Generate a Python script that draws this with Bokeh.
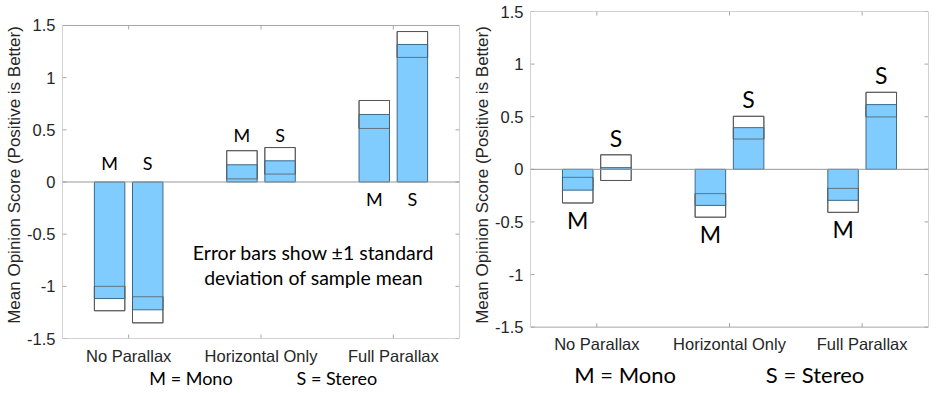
from bokeh.plotting import figure
from bokeh.layouts import row
from bokeh.models import Range1d, FixedTicker, LinearAxis, Span
from bokeh.core.properties import value
from bokeh.embed import file_html
from bokeh.resources import INLINE

# ---------------- data ----------------
categories = ["No Parallax", "Horizontal Only", "Full Parallax"]
y_ticks = [-1.5, -1, -0.5, 0, 0.5, 1, 1.5]
y_tick_labels = ["-1.5", "-1", "-0.5", "0", "0.5", "1", "1.5"]

# left panel
left_mono_mean = [-1.117, 0.165, 0.647]
left_mono_sd = [0.117, 0.135, 0.134]
left_stereo_mean = [-1.225, 0.203, 1.318]
left_stereo_sd = [0.125, 0.127, 0.124]

# right panel
right_mono_mean = [-0.198, -0.343, -0.295]
right_mono_sd = [0.122, 0.112, 0.114]
right_stereo_mean = [0.016, 0.396, 0.615]
right_stereo_sd = [0.122, 0.108, 0.117]

y_label = "Mean Opinion Score (Positive is Better)"
note_lines = ["Error bars show \u00b11 standard", "deviation of sample mean"]
legend_texts = ["M = Mono", "S = Stereo"]

# ---------------- style ----------------
BLUE = "#80CCFF"
BAR_EDGE = "#3b6b8c"
BOX_EDGE = "#555555"
FRAME = "#a6a6a6"
TXT = "#262626"
AX_FONT = "Liberation Sans"
ANN_FONT = "Lato"
OFF = 0.144
HALF_W = 0.115
FRAME_H = 327


def make_panel(fw, y_lo, y_hi, mb_left, mb_right, cat_standoff,
               legend_x, legend_size, legend_standoff,
               mono_mean, mono_sd, stereo_mean, stereo_sd):
    p = figure(frame_width=fw, frame_height=FRAME_H, output_backend="svg",
               toolbar_location=None, title=None, x_range=Range1d(0.5, 3.5),
               y_range=Range1d(y_lo, y_hi),
               min_border_left=mb_left, min_border_right=mb_right,
               min_border_top=11, min_border_bottom=55)
    p.xgrid.visible = False
    p.ygrid.visible = False
    p.outline_line_color = None

    xs = [i + 1 for i in range(len(categories))]

    # axes (lines/ticks are drawn as a box below)
    p.xaxis.ticker = FixedTicker(ticks=xs)
    p.xaxis.major_label_overrides = {x: c for x, c in zip(xs, categories)}
    p.yaxis.ticker = FixedTicker(ticks=y_ticks)
    p.yaxis.major_label_overrides = {t: l for t, l in zip(y_ticks, y_tick_labels)}
    p.yaxis.axis_label = y_label
    for ax in (p.xaxis[0], p.yaxis[0]):
        ax.axis_line_color = None
        ax.major_tick_line_color = None
        ax.minor_tick_line_color = None
        ax.major_tick_in = 0
        ax.major_tick_out = 0
        ax.major_label_text_font = AX_FONT
        ax.major_label_text_font_size = "16.5px"
        ax.major_label_text_color = TXT
        ax.axis_label_text_font = AX_FONT
        ax.axis_label_text_font_size = "17px"
        ax.axis_label_text_font_style = "normal"
        ax.axis_label_text_color = TXT
    p.yaxis.major_label_standoff = 7
    p.yaxis.axis_label_standoff = 0
    p.xaxis.major_label_standoff = cat_standoff

    # legend line below the category labels
    leg = LinearAxis(ticker=FixedTicker(ticks=legend_x),
                     major_label_overrides={x: t for x, t in zip(legend_x, legend_texts)},
                     major_label_text_font=ANN_FONT, major_label_text_font_size=legend_size,
                     major_label_text_color="black", major_label_standoff=legend_standoff,
                     major_tick_in=0, major_tick_out=0,
                     major_tick_line_color=None, minor_tick_line_color=None,
                     axis_line_color=None)
    p.add_layout(leg, "below")

    # axes box from -1.5 to 1.5 with inward ticks on all four sides
    x0, x1 = p.x_range.start, p.x_range.end
    b0, b1 = y_ticks[0], y_ticks[-1]
    dx = 4 * (x1 - x0) / fw
    dy = 4 * (y_hi - y_lo) / FRAME_H
    n = len(y_ticks)
    m = len(xs)
    p.segment(x0=[x1] * n, x1=[x1 - dx] * n, y0=y_ticks, y1=y_ticks,
              line_color=FRAME, line_width=1)
    p.segment(x0=[x0] * n, x1=[x0 + dx] * n, y0=y_ticks, y1=y_ticks,
              line_color=FRAME, line_width=1)
    p.segment(x0=xs, x1=xs, y0=[b1] * m, y1=[b1 - dy] * m,
              line_color=FRAME, line_width=1)
    p.segment(x0=xs, x1=xs, y0=[b0] * m, y1=[b0 + dy] * m,
              line_color=FRAME, line_width=1)

    p.add_layout(Span(location=0, dimension="width", line_color="#999999", line_width=1))

    for off, mean, sd in ((-OFF, mono_mean, mono_sd), (OFF, stereo_mean, stereo_sd)):
        cx = [x + off for x in xs]
        lefts = [c - HALF_W for c in cx]
        rights = [c + HALF_W for c in cx]
        lo = [mm - s for mm, s in zip(mean, sd)]
        hi = [mm + s for mm, s in zip(mean, sd)]
        zeros = [0] * len(mean)
        # error box (white)
        p.quad(left=lefts, right=rights, bottom=lo, top=hi,
               fill_color="white", line_color=BOX_EDGE, line_width=1)
        # bar to mean
        p.quad(left=lefts, right=rights, bottom=zeros, top=mean,
               fill_color=BLUE, line_color=BAR_EDGE, line_width=1)
        # error box outline on top
        p.quad(left=lefts, right=rights, bottom=lo, top=hi,
               fill_color=None, line_color=BOX_EDGE, line_width=1, line_alpha=0.75)

    p.quad(left=[x0], right=[x1], bottom=[b0], top=[b1], fill_color=None,
           line_color=FRAME, line_width=1)
    return p, xs


# ---------------- left panel ----------------
pl, xs = make_panel(397, -1.5, 1.634, 62, 11, 8, [1.471, 2.573], "18px", -1,
                    left_mono_mean, left_mono_sd, left_stereo_mean, left_stereo_sd)
left_label_y = [0.18, 0.45, -0.16]
pl.text(x=[x - OFF for x in xs] + [x + OFF for x in xs],
        y=left_label_y + left_label_y,
        text=["M"] * 3 + ["S"] * 3,
        text_font=value(ANN_FONT), text_font_size="18px", text_color="black",
        text_align="center", text_baseline="middle")
pl.text(x=[2.397, 2.397], y=[-0.673, -0.913], text=note_lines,
        text_font=value(ANN_FONT), text_font_size="19.5px", text_color="black",
        text_align="center", text_baseline="middle")

# ---------------- right panel ----------------
pr, xs = make_panel(398, -1.608, 1.5, 59, 8, -4, [1.213, 2.645], "22px", 5,
                    right_mono_mean, right_mono_sd, right_stereo_mean, right_stereo_sd)
m_lab_y = [mm - s - 0.16 for mm, s in zip(right_mono_mean, right_mono_sd)]
s_lab_y = [mm + s + 0.16 for mm, s in zip(right_stereo_mean, right_stereo_sd)]
pr.text(x=[x - OFF for x in xs] + [x + OFF for x in xs],
        y=m_lab_y + s_lab_y,
        text=["M"] * 3 + ["S"] * 3,
        text_font=value(ANN_FONT), text_font_size="23px", text_color="black",
        text_align="center", text_baseline="middle")

layout = row(pl, pr)
open("out.html", "w").write(file_html(layout, INLINE))
